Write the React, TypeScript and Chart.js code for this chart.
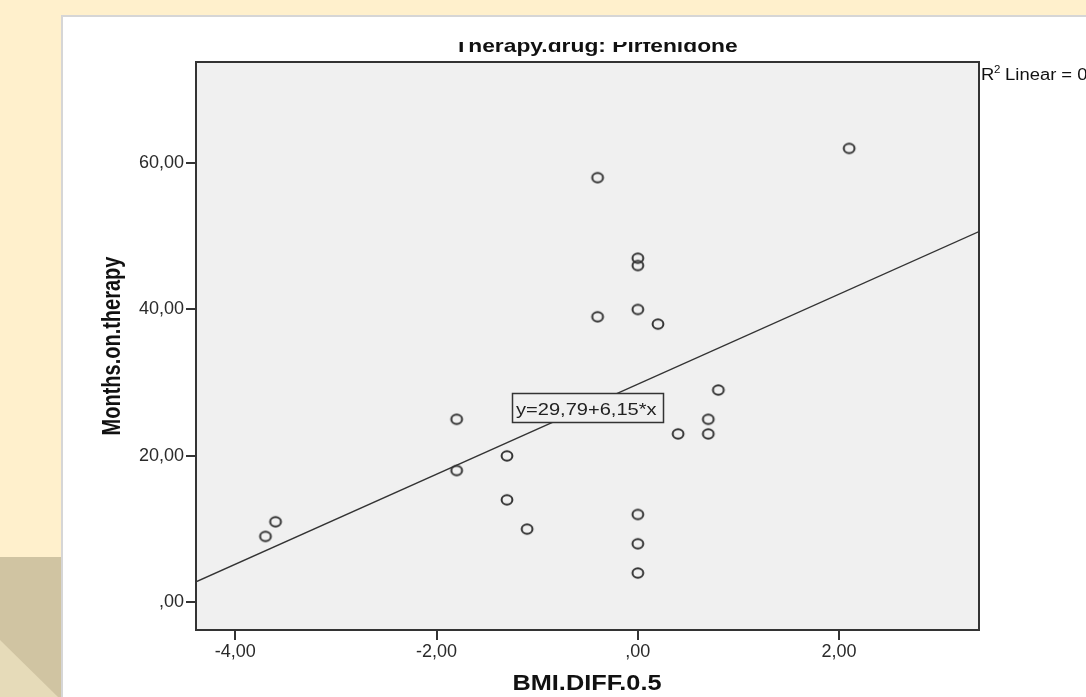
import React, { useEffect, useRef } from "react";
import { Chart, registerables } from "chart.js";

Chart.register(...registerables);

// ---- Data ----
const bmiDiff = [-3.7, -3.6, -1.8, -1.8, -1.3, -1.3, -1.1, -0.4, -0.4, 0, 0, 0, 0, 0, 0, 0.2, 0.4, 0.7, 0.7, 0.8, 2.1];
const monthsOnTherapy = [9, 11, 25, 18, 20, 14, 10, 58, 39, 47, 46, 40, 12, 8, 4, 38, 23, 25, 23, 29, 62];
const xTickValues = [-4, -2, 0, 2];
const yTickValues = [0, 20, 40, 60];
const X_MIN = -4.39;
const X_MAX = 3.39;
const Y_MIN = -3.78;
const Y_MAX = 73.8;
const FIT_INTERCEPT = 29.79;
const FIT_SLOPE = 6.15;
const fitLineX = [X_MIN, X_MAX];

const TITLE = "Therapy.drug: Pirfenidone";
const X_TITLE = "BMI.DIFF.0.5";
const Y_TITLE = "Months.on.therapy";
const EQUATION = "y=29,79+6,15*x";
const R2_LABEL = " Linear = 0";

const W = 1086;
const H = 697;
const FONT = '"Liberation Sans", Arial, Helvetica, sans-serif';

const fmt = (v: number) => (v === 0 ? ",00" : v.toFixed(2).replace(".", ","));

function stretchedText(ctx: CanvasRenderingContext2D, text: string, x: number, y: number, font: string, sx: number, align: CanvasTextAlign) {
  ctx.save();
  ctx.font = font;
  ctx.textAlign = align;
  ctx.textBaseline = "alphabetic";
  ctx.translate(x, y);
  ctx.scale(sx, 1);
  ctx.fillText(text, 0, 0);
  ctx.restore();
}

function makeMarker(): HTMLCanvasElement {
  const c = document.createElement("canvas");
  c.width = 16;
  c.height = 14;
  const g = c.getContext("2d")!;
  g.strokeStyle = "#333";
  g.lineWidth = 2;
  g.beginPath();
  g.ellipse(8, 7, 5.4, 4.7, 0, 0, Math.PI * 2);
  g.stroke();
  return c;
}

const decorPlugin = {
  id: "decor",
  beforeDraw(chart: any) {
    const ctx: CanvasRenderingContext2D = chart.ctx;
    const a = chart.chartArea;
    ctx.save();
    // page background
    ctx.fillStyle = "#FFF0CC";
    ctx.fillRect(0, 0, W, H);
    // tan shape bottom-left
    ctx.fillStyle = "#D0C4A2";
    ctx.beginPath();
    ctx.moveTo(0, 557);
    ctx.lineTo(63, 557);
    ctx.lineTo(63, H);
    ctx.lineTo(0, H);
    ctx.closePath();
    ctx.fill();
    ctx.fillStyle = "#E6DBB9";
    ctx.beginPath();
    ctx.moveTo(0, 640);
    ctx.lineTo(58, H);
    ctx.lineTo(0, H);
    ctx.closePath();
    ctx.fill();
    // white card
    ctx.fillStyle = "#D6D6D6";
    ctx.fillRect(61, 15, W - 61, H - 15);
    ctx.fillStyle = "#FFFFFF";
    ctx.fillRect(63, 17, W - 63, H - 17);
    // plot background
    ctx.fillStyle = "#F0F0F0";
    ctx.fillRect(a.left, a.top, a.right - a.left, a.bottom - a.top);
    ctx.restore();
  },
  afterDatasetsDraw(chart: any) {
    const ctx: CanvasRenderingContext2D = chart.ctx;
    ctx.save();
    // equation label box
    ctx.fillStyle = "#F0F0F0";
    ctx.fillRect(512.5, 393.5, 151, 29);
    ctx.strokeStyle = "#333";
    ctx.lineWidth = 1.5;
    ctx.strokeRect(512.5, 393.5, 151, 29);
    ctx.fillStyle = "#222";
    stretchedText(ctx, EQUATION, 516, 415, `17px ${FONT}`, 1.18, "left");
    ctx.restore();
  },
  afterDraw(chart: any) {
    const ctx: CanvasRenderingContext2D = chart.ctx;
    const a = chart.chartArea;
    ctx.save();
    // frame
    ctx.strokeStyle = "#333";
    ctx.lineWidth = 2;
    ctx.strokeRect(a.left, a.top, a.right - a.left, a.bottom - a.top);
    // title (top clipped as in the source)
    ctx.save();
    ctx.beginPath();
    ctx.rect(0, 42, W, 40);
    ctx.clip();
    ctx.fillStyle = "#111";
    stretchedText(ctx, TITLE, 596, 52, `bold 19px ${FONT}`, 1.2, "center");
    ctx.restore();
    // R^2 label
    ctx.fillStyle = "#111";
    stretchedText(ctx, "R", 981, 80, `16px ${FONT}`, 1.15, "left");
    stretchedText(ctx, "2", 994, 73, `10px ${FONT}`, 1.15, "left");
    stretchedText(ctx, R2_LABEL, 1000, 80, `16px ${FONT}`, 1.15, "left");
    // x axis title
    stretchedText(ctx, X_TITLE, 587, 690, `bold 22px ${FONT}`, 1.15, "center");
    // y axis title
    ctx.save();
    ctx.translate(120, (a.top + a.bottom) / 2);
    ctx.rotate(-Math.PI / 2);
    ctx.scale(1, 1.3);
    ctx.font = `bold 20px ${FONT}`;
    ctx.textAlign = "center";
    ctx.textBaseline = "alphabetic";
    ctx.fillText(Y_TITLE, 0, 0);
    ctx.restore();
    ctx.restore();
  },
};

export default function App() {
  const canvasRef = useRef<HTMLCanvasElement | null>(null);

  useEffect(() => {
    if (!canvasRef.current) return;
    const points = bmiDiff.map((x, i) => ({ x, y: monthsOnTherapy[i] }));
    const fitPoints = fitLineX.map((x) => ({ x, y: FIT_INTERCEPT + FIT_SLOPE * x }));
    const tickFont = { family: FONT, size: 18 };
    const marker = makeMarker();

    const chart = new Chart(canvasRef.current, {
      type: "scatter",
      data: {
        datasets: [
          {
            label: "Fit",
            data: fitPoints,
            showLine: true,
            borderColor: "#333",
            borderWidth: 1.4,
            pointRadius: 0,
            fill: false,
            order: 2,
          } as any,
          {
            label: "Observed",
            data: points,
            pointRadius: 6,
            pointStyle: marker,
            borderColor: "#333",
            backgroundColor: "rgba(0,0,0,0)",
            order: 1,
          },
        ],
      },
      options: {
        responsive: false,
        animation: false,
        devicePixelRatio: 1,
        layout: { padding: { left: 0, right: 107, top: 62, bottom: 0 } },
        plugins: { legend: { display: false }, tooltip: { enabled: false }, title: { display: false } },
        scales: {
          x: {
            type: "linear",
            min: X_MIN,
            max: X_MAX,
            afterBuildTicks: (s: any) => {
              s.ticks = xTickValues.map((v) => ({ value: v }));
            },
            afterFit: (s: any) => {
              s.height = 67;
            },
            ticks: { callback: (v: any) => fmt(Number(v)), font: tickFont, color: "#2a2a2a", padding: 1, maxRotation: 0, autoSkip: false },
            grid: { drawOnChartArea: false, drawTicks: true, tickLength: 10, color: "#333", lineWidth: 2 },
            border: { display: true, color: "#333", width: 2 },
          },
          y: {
            type: "linear",
            min: Y_MIN,
            max: Y_MAX,
            afterBuildTicks: (s: any) => {
              s.ticks = yTickValues.map((v) => ({ value: v }));
            },
            afterFit: (s: any) => {
              s.width = 196;
            },
            ticks: { callback: (v: any) => fmt(Number(v)), font: tickFont, color: "#2a2a2a", padding: 2, autoSkip: false },
            grid: { drawOnChartArea: false, drawTicks: true, tickLength: 10, color: "#333", lineWidth: 2 },
            border: { display: true, color: "#333", width: 2 },
          },
        },
      },
      plugins: [decorPlugin],
    });
    return () => chart.destroy();
  }, []);

  return (
    <div style={{ position: "fixed", left: 0, top: 0, width: W, height: H }}>
      <canvas ref={canvasRef} width={W} height={H} style={{ display: "block", width: W, height: H }} />
    </div>
  );
}
